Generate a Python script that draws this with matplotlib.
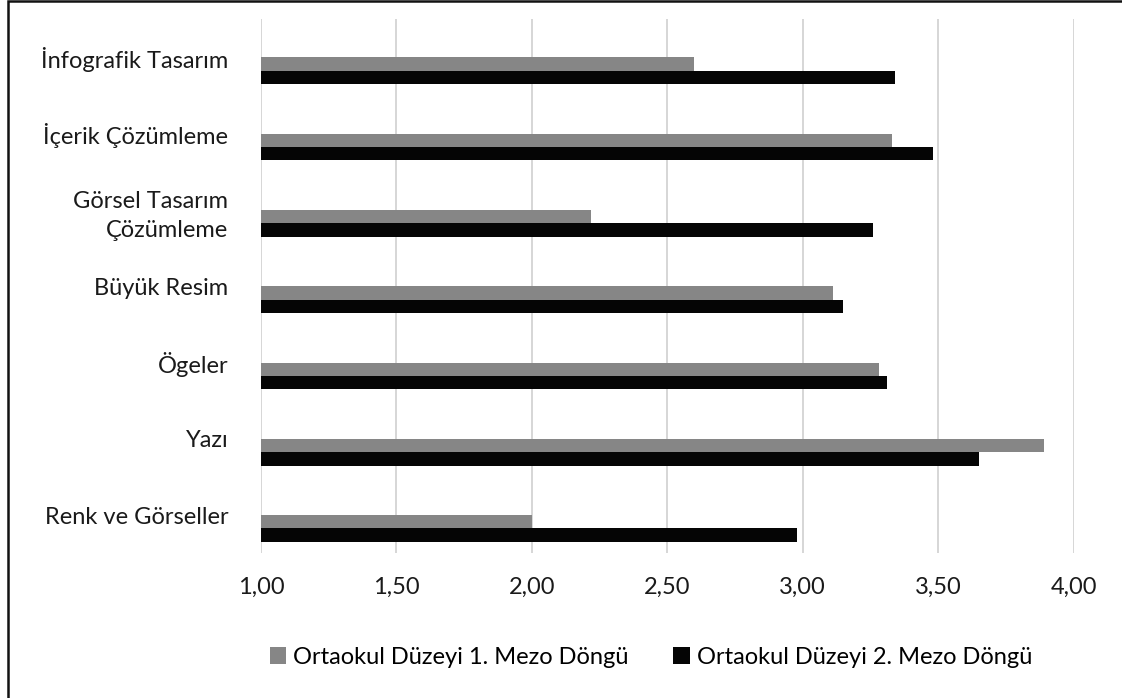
import matplotlib
matplotlib.use("Agg")
import matplotlib.pyplot as plt
from matplotlib.patches import Patch, Rectangle
import numpy as np

plt.rcParams['font.family'] = ['Lato', 'DejaVu Sans']

categories = ["Renk ve Görseller", "Yazı", "Ögeler", "Büyük Resim",
              "Görsel Tasarım\nÇözümleme", "İçerik Çözümleme", "İnfografik Tasarım"]
series1_name = "Ortaokul Düzeyi 1. Mezo Döngü"
series2_name = "Ortaokul Düzeyi 2. Mezo Döngü"
series1 = [2.00, 3.89, 3.28, 3.11, 2.22, 3.33, 2.60]
series2 = [2.98, 3.65, 3.31, 3.15, 3.26, 3.48, 3.34]
xticks = [1.0, 1.5, 2.0, 2.5, 3.0, 3.5, 4.0]
xticklabels = ["1,00", "1,50", "2,00", "2,50", "3,00", "3,50", "4,00"]

W, H = 1122, 698
fig = plt.figure(figsize=(W / 100, H / 100), dpi=100)
ax = fig.add_axes([261 / W, 1 - 553.3 / H, (1073.6 - 261) / W, (553.3 - 19.3) / H])

y = np.arange(len(categories))
h = 13.33 / 76.3
gray = "#868686"
black = "#050505"
ax.barh(y - 0.5 * h, np.array(series1) - 1, left=1, height=h, color=gray, zorder=3)
ax.barh(y - 1.5 * h, np.array(series2) - 1, left=1, height=h, color=black, zorder=3)

ax.set_xlim(1, 4)
ax.set_ylim(-0.5, len(categories) - 0.5)
ax.set_xticks(xticks)
ax.set_xticklabels(xticklabels, fontsize=17, color="#1a1a1a")
ax.set_yticks(y)
ax.set_yticklabels(categories, fontsize=17, color="#1a1a1a", linespacing=1.45)
ax.tick_params(axis='both', length=0)
ax.tick_params(axis='x', pad=17)
ax.tick_params(axis='y', pad=23.5)
for s in ax.spines.values():
    s.set_visible(False)
ax.grid(axis='x', color="#d0d0d0", linewidth=1.2, zorder=0)
ax.set_axisbelow(True)

handles = [Patch(facecolor=gray, edgecolor='none', label=series1_name),
           Patch(facecolor=black, edgecolor='none', label=series2_name)]
fig.legend(handles=handles, loc='center', bbox_to_anchor=(651 / W, 1 - 657 / H),
           ncol=2, frameon=False, fontsize=17, handlelength=0.7, handleheight=0.7,
           handletextpad=0.3, columnspacing=1.9)

# outer frame (left and top visible)
fig.add_artist(Rectangle((7.5 / W, -0.05), 1.2, 1.05 - 1.5 / H, transform=fig.transFigure,
                         fill=False, edgecolor="#111111", linewidth=1.8))

fig.savefig("out.png", dpi=100)
